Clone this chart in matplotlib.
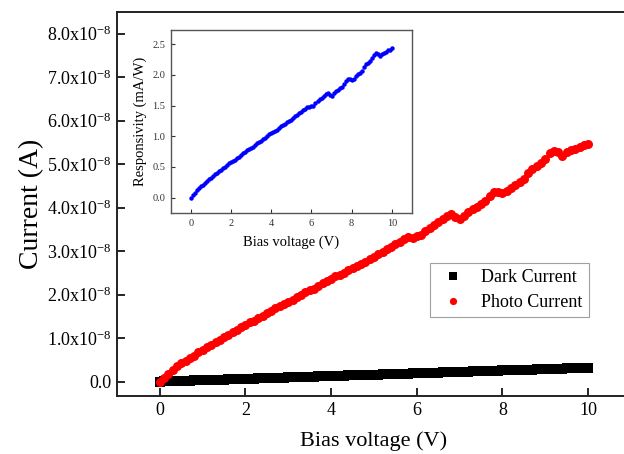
import numpy as np
import matplotlib
matplotlib.use("Agg")
import matplotlib.pyplot as plt
from matplotlib.ticker import FuncFormatter, MultipleLocator

plt.rcParams['font.family'] = ['Liberation Serif', 'DejaVu Serif']
plt.rcParams['mathtext.fontset'] = 'custom'
plt.rcParams['mathtext.rm'] = 'Liberation Serif'

# Bias sweep (V)
bias = [0.0, 0.1, 0.2, 0.3, 0.4, 0.5, 0.6, 0.7, 0.8, 0.9,
        1.0, 1.1, 1.2, 1.3, 1.4, 1.5, 1.6, 1.7, 1.8, 1.9,
        2.0, 2.1, 2.2, 2.3, 2.4, 2.5, 2.6, 2.7, 2.8, 2.9,
        3.0, 3.1, 3.2, 3.3, 3.4, 3.5, 3.6, 3.7, 3.8, 3.9,
        4.0, 4.1, 4.2, 4.3, 4.4, 4.5, 4.6, 4.7, 4.8, 4.9,
        5.0, 5.1, 5.2, 5.3, 5.4, 5.5, 5.6, 5.7, 5.8, 5.9,
        6.0, 6.1, 6.2, 6.3, 6.4, 6.5, 6.6, 6.7, 6.8, 6.9,
        7.0, 7.1, 7.2, 7.3, 7.4, 7.5, 7.6, 7.7, 7.8, 7.9,
        8.0, 8.1, 8.2, 8.3, 8.4, 8.5, 8.6, 8.7, 8.8, 8.9,
        9.0, 9.1, 9.2, 9.3, 9.4, 9.5, 9.6, 9.7, 9.8, 9.9,
        10.0]

# Photo current (x1e-8 A)
photo = [0.00, 0.09, 0.18, 0.27, 0.35, 0.42, 0.48, 0.54, 0.60, 0.67,
         0.73, 0.79, 0.85, 0.91, 0.96, 1.02, 1.07, 1.13, 1.19, 1.25,
         1.31, 1.36, 1.40, 1.46, 1.51, 1.57, 1.63, 1.69, 1.75, 1.79,
         1.83, 1.88, 1.94, 2.00, 2.06, 2.10, 2.14, 2.19, 2.26, 2.31,
         2.37, 2.42, 2.46, 2.50, 2.56, 2.62, 2.66, 2.70, 2.76, 2.81,
         2.87, 2.93, 2.99, 3.05, 3.10, 3.16, 3.22, 3.27, 3.32, 3.30,
         3.35, 3.38, 3.46, 3.53, 3.60, 3.66, 3.73, 3.80, 3.85, 3.78,
         3.74, 3.82, 3.90, 3.96, 4.02, 4.08, 4.16, 4.28, 4.36, 4.36,
         4.33, 4.38, 4.45, 4.52, 4.58, 4.66, 4.80, 4.90, 4.95, 5.02,
         5.12, 5.25, 5.30, 5.28, 5.18, 5.28, 5.32, 5.36, 5.40, 5.43,
         5.47]

# Dark current (x1e-8 A)
dark = [0.000, 0.003, 0.006, 0.010, 0.012, 0.016, 0.019, 0.022, 0.026, 0.029,
        0.032, 0.035, 0.039, 0.042, 0.044, 0.048, 0.051, 0.055, 0.058, 0.061,
        0.064, 0.067, 0.070, 0.073, 0.077, 0.080, 0.083, 0.087, 0.090, 0.093,
        0.096, 0.099, 0.103, 0.106, 0.109, 0.112, 0.115, 0.119, 0.122, 0.125,
        0.128, 0.131, 0.135, 0.138, 0.141, 0.144, 0.147, 0.151, 0.154, 0.157,
        0.160, 0.163, 0.166, 0.170, 0.173, 0.176, 0.179, 0.182, 0.186, 0.189,
        0.192, 0.195, 0.198, 0.202, 0.205, 0.208, 0.211, 0.214, 0.218, 0.221,
        0.224, 0.227, 0.230, 0.234, 0.237, 0.240, 0.243, 0.246, 0.250, 0.253,
        0.256, 0.259, 0.262, 0.266, 0.269, 0.272, 0.275, 0.278, 0.282, 0.285,
        0.288, 0.291, 0.294, 0.298, 0.301, 0.304, 0.307, 0.310, 0.314, 0.317,
        0.320]

# Responsivity (mA/W)
resp = [0.00, 0.04, 0.08, 0.12, 0.16, 0.19, 0.21, 0.24, 0.27, 0.30,
        0.32, 0.35, 0.38, 0.40, 0.43, 0.45, 0.48, 0.50, 0.53, 0.56,
        0.58, 0.60, 0.62, 0.65, 0.67, 0.70, 0.72, 0.75, 0.78, 0.79,
        0.81, 0.83, 0.86, 0.89, 0.91, 0.93, 0.95, 0.97, 1.00, 1.03,
        1.05, 1.07, 1.09, 1.11, 1.14, 1.16, 1.18, 1.20, 1.23, 1.25,
        1.27, 1.30, 1.33, 1.35, 1.38, 1.40, 1.43, 1.45, 1.47, 1.47,
        1.49, 1.50, 1.54, 1.57, 1.60, 1.63, 1.66, 1.69, 1.71, 1.68,
        1.66, 1.70, 1.73, 1.76, 1.78, 1.81, 1.85, 1.90, 1.94, 1.94,
        1.92, 1.94, 1.98, 2.01, 2.03, 2.07, 2.13, 2.18, 2.20, 2.23,
        2.27, 2.33, 2.35, 2.34, 2.30, 2.34, 2.36, 2.38, 2.40, 2.41,
        2.43]

bias = np.array(bias)
photo = np.array(photo) * 1e-8
dark = np.array(dark) * 1e-8
resp = np.array(resp)

fig = plt.figure(figsize=(6.24, 4.54), dpi=100)
ax = fig.add_axes([0.1875, 0.1278, 0.8237, 0.8458])

ax.plot(bias, dark, 's', color='black', markersize=6.5, markeredgewidth=0,
        label='Dark Current')
ax.plot(bias, photo, 'o', color='red', markersize=6.5, markeredgewidth=0,
        label='Photo Current')

ax.set_xlim(-1, 11)
ax.set_ylim(-0.33e-8, 8.5e-8)
ax.xaxis.set_major_locator(MultipleLocator(2))
ax.yaxis.set_major_locator(MultipleLocator(1e-8))


def sci_fmt(v, pos):
    m = v / 1e-8
    if abs(m) < 1e-9:
        return '0.0'
    return r'$\mathregular{%.1fx10^{-8}}$' % m


ax.yaxis.set_major_formatter(FuncFormatter(sci_fmt))
ax.tick_params(direction='in', length=6, width=1.2, labelsize=13, pad=4)
for s in ax.spines.values():
    s.set_linewidth(1.4)
    s.set_color('#222222')

ax.set_xlabel('Bias voltage (V)', fontsize=16, labelpad=9)
ax.set_ylabel('Current (A)', fontsize=20, labelpad=2)

leg = ax.legend(loc='upper left', bbox_to_anchor=(0.609, 0.346), fontsize=13,
                frameon=True, fancybox=False, edgecolor='#888888',
                borderaxespad=0, handletextpad=0.7, borderpad=0.35,
                labelspacing=0.42, handlelength=1.8, markerscale=0.8)
leg.get_frame().set_linewidth(0.8)

# Inset: responsivity
ins = fig.add_axes([0.274, 0.5308, 0.386, 0.403])
ins.plot(bias, resp, 'o', color='blue', markersize=3.2, markeredgewidth=0)
ins.set_xlim(-1, 11)
ins.set_ylim(-0.25, 2.73)
ins.xaxis.set_major_locator(MultipleLocator(2))
ins.yaxis.set_major_locator(MultipleLocator(0.5))
ins.yaxis.set_major_formatter(FuncFormatter(lambda v, p: '%.1f' % v))
ins.tick_params(direction='in', length=3, width=0.8, labelsize=7.5, pad=4,
                colors='#333333')
for s in ins.spines.values():
    s.set_linewidth(1.0)
    s.set_color('#555555')
ins.set_xlabel('Bias voltage (V)', fontsize=10.5, labelpad=6)
ins.set_ylabel('Responsivity (mA/W)', fontsize=10.5, labelpad=4)

fig.savefig('out.png', dpi=100)
